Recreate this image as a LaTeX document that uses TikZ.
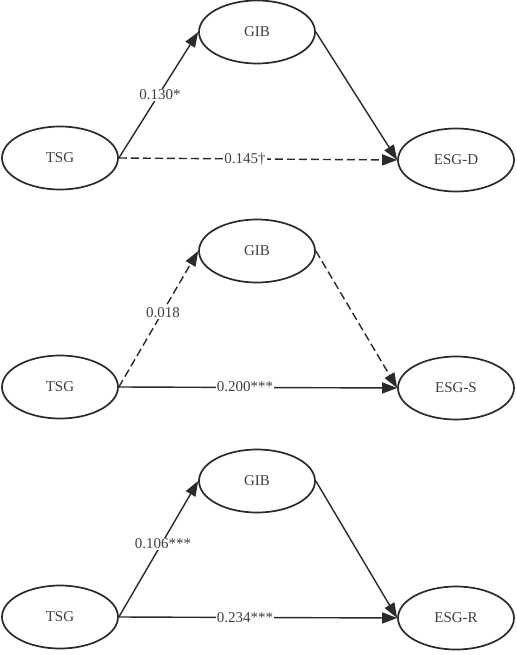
\documentclass[tikz,border=0pt]{standalone}
\usepackage{fontspec}
\setmainfont{Liberation Serif}
\usetikzlibrary{shapes.geometric,arrows.meta}
\definecolor{ink}{HTML}{2A2A2A}
\definecolor{txt}{HTML}{404040}
\tikzset{
  var/.style={ellipse, draw=ink, line width=1.7pt, inner sep=0pt, minimum width=116pt, minimum height=63pt, text=txt, font=\fontsize{15}{17}\selectfont},
  path/.style={draw=ink, line width=1.4pt, -{Triangle[length=15pt,width=11pt]}},
  ns/.style={path, dash pattern=on 8pt off 4pt},
  lab/.style={fill=white, inner sep=1pt, text=txt, font=\fontsize{15}{17}\selectfont}
}
\begin{document}
\begin{tikzpicture}[x=1pt,y=-1pt]
\useasboundingbox[fill=white] (0,0) rectangle (516,655);
% panel 1
\node[var] (t1) at (60,158) {TSG};
\node[var] (g1) at (257,32) {GIB};
\node[var] (e1) at (456,160) {ESG-D};
\draw[path] (t1.east) -- (g1.west);
\draw[path] (g1.east) -- (e1.west);
\draw[ns] (t1.east) -- (e1.west);
\node[lab] (l1a) at (160,95) {0.130*};
\node[lab] (l1b) at (245,159) {0.145†};
% panel 2
\node[var] (t2) at (60,387) {TSG};
\node[var] (g2) at (257,251) {GIB};
\node[var] (e2) at (456,388) {ESG-S};
\draw[ns] (t2.east) -- (g2.west);
\draw[ns] (g2.east) -- (e2.west);
\draw[path] (t2.east) -- (e2.west);
\node[lab] (l2a) at (163,313) {0.018};
\node[lab] (l2b) at (245,387) {0.200***};
% panel 3
\node[var] (t3) at (60,617) {TSG};
\node[var] (g3) at (257,481) {GIB};
\node[var] (e3) at (456,618) {ESG-R};
\draw[path] (t3.east) -- (g3.west);
\draw[path] (g3.east) -- (e3.west);
\draw[path] (t3.east) -- (e3.west);
\node[lab] (l3a) at (163,544) {0.106***};
\node[lab] (l3b) at (245,618) {0.234***};
\end{tikzpicture}
\end{document}
